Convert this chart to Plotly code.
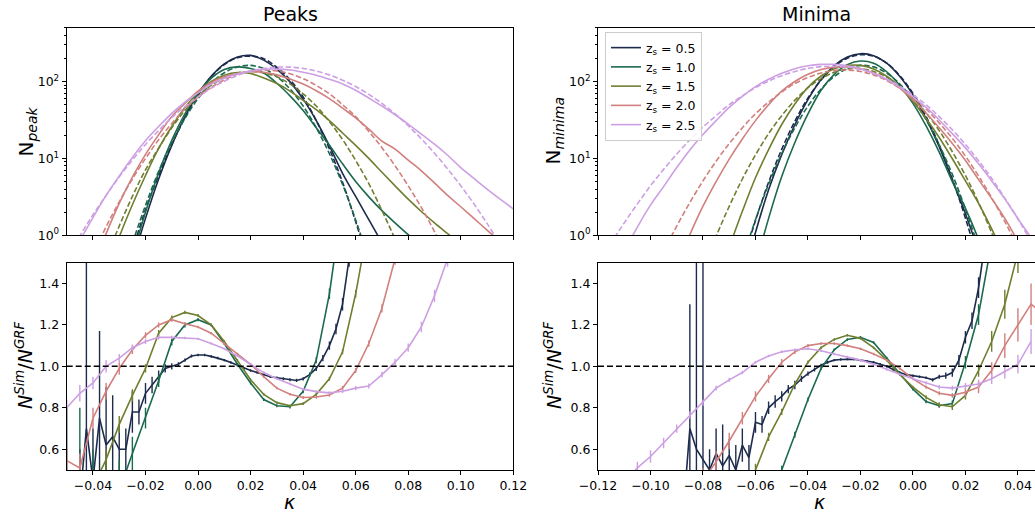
import plotly.graph_objects as go
from plotly.subplots import make_subplots

N = None
# ---------------- data ----------------
z_labels = ["0.5", "1.0", "1.5", "2.0", "2.5"]
colors = ["#1d2b4d", "#1b6a4e", "#6e7f2f", "#d1807e", "#cd9fe3"]

K_TL = [-0.05, -0.045, -0.04, -0.035, -0.03, -0.025, -0.02, -0.015, -0.01, -0.005,
        0.0, 0.005, 0.01, 0.015, 0.02, 0.025, 0.03, 0.035, 0.04, 0.045,
        0.05, 0.055, 0.06, 0.065, 0.07, 0.075, 0.08, 0.085, 0.09, 0.095,
        0.1, 0.105, 0.11, 0.115, 0.12]

peak_sim_05 = [N, N, N, N, N, 0.45, 1.66, 5.4, 14.8, 34.7, 69, 117, 170, 209, 219, 190, 145, 99, 59, 31,
               14.6, 6.4, 3.2, 1.6, 0.8, N, N, N, N, N, N, N, N, N, N]
peak_grf_05 = [N, N, N, N, N, 0.63, 2.14, 6.0, 15.1, 33.9, 66, 115, 166, 204, 214, 198, 153, 106, 63, 31,
               13.3, 4.9, 1.5, 0.42, N, N, N, N, N, N, N, N, N, N, N]
peak_sim_10 = [N, N, N, N, N, 0.52, 2.0, 6.5, 17.2, 38, 71, 110, 143, 155, 148, 129, 95, 65, 42, 25,
               14.8, 8.5, 5.0, 3.16, 2.09, 1.45, 1.02, 0.74, N, N, N, N, N, N, N]
peak_grf_10 = [N, N, N, N, N, 0.79, 2.45, 6.8, 16.0, 33, 60, 95, 130, 155, 162, 147, 116, 80, 48, 25,
               11.5, 4.6, 1.58, 0.48, N, N, N, N, N, N, N, N, N, N, N]
peak_sim_15 = [N, N, N, 0.3, 0.95, 2.5, 6.0, 13.5, 26, 46, 72, 100, 121, 131, 127, 111, 94, 75, 57, 43,
               31, 21.4, 14.8, 10, 6.6, 4.4, 2.95, 2.04, 1.45, 1.05, 0.76, N, N, N, N]
peak_grf_15 = [N, N, N, 0.5, 1.32, 3.2, 7.1, 13.6, 25, 42, 64, 89, 112, 129, 135, 129, 115, 93, 69, 48,
               30, 17.6, 9.4, 4.7, 2.1, 0.89, 0.34, N, N, N, N, N, N, N, N]
peak_sim_20 = [N, N, 0.38, 1.05, 2.6, 5.7, 11.3, 20.3, 35, 52, 75, 97, 115, 127, 134, 132, 122, 108, 93, 76,
               60, 45, 33.7, 24, 16.8, 13.2, 9.5, 6.9, 4.8, 3.3, 2.35, 1.66, 1.17, 0.83, N]
peak_grf_20 = [N, N, 0.56, 1.29, 2.72, 5.4, 10.0, 17.5, 28.5, 44, 63, 84, 105, 124, 136, 141, 137, 126, 109, 89,
               69, 50, 35, 22.4, 13.8, 8.0, 4.4, 2.3, 1.12, 0.51, N, N, N, N, N]
peak_sim_25 = [0.4, 0.85, 1.7, 3.3, 5.9, 10.3, 17, 26, 38.6, 54, 71, 92, 110, 126, 137, 144, 145, 141, 132, 121,
               107, 93, 77, 61, 48, 37, 28, 20.7, 15.3, 11, 7.6, 5.5, 4.0, 2.95, 2.2]
peak_grf_25 = [0.5, 0.98, 1.85, 3.3, 5.75, 9.5, 15.2, 23, 34, 47, 63, 82, 101, 120, 136, 148, 154, 154, 148, 137,
               122, 104, 86, 68, 52, 38, 26.6, 18, 11.7, 7.3, 4.4, 2.57, 1.43, 0.76, N]

K_TR = [-0.12, -0.115, -0.11, -0.105, -0.1, -0.095, -0.09, -0.085, -0.08, -0.075,
        -0.07, -0.065, -0.06, -0.055, -0.05, -0.045, -0.04, -0.035, -0.03, -0.025,
        -0.02, -0.015, -0.01, -0.005, 0.0, 0.005, 0.01, 0.015, 0.02, 0.025,
        0.03, 0.035, 0.04, 0.045, 0.05]

min_sim_05 = [N, N, N, N, N, N, N, N, N, N, N, 0.25, 1.09, 3.9, 11.2, 27.4, 58, 106, 161, 208,
              230, 217, 173, 116, 67, 33, 14.2, 5.25, 1.91, 0.62, N, N, N, N, N]
min_grf_05 = [N, N, N, N, N, N, N, N, N, N, N, 0.43, 1.56, 4.9, 13.1, 30.4, 61, 105, 157, 201,
              223, 213, 173, 119, 70, 35, 14.9, 5.4, 1.67, 0.44, N, N, N, N, N]
min_sim_10 = [N, N, N, N, N, N, N, N, N, N, N, N, 0.4, 1.66, 5.8, 16.1, 38, 77, 124, 166,
              185, 173, 134, 89, 52, 26.4, 12.1, 5.0, 2.24, 0.88, 0.29, N, N, N, N]
min_grf_10 = [N, N, N, N, N, N, N, N, N, N, N, 0.48, 1.59, 4.6, 11.5, 25, 48, 80, 116, 147,
              162, 155, 129, 93, 58, 31.8, 15, 6.2, 2.19, 0.68, 0.18, N, N, N, N]
min_sim_15 = [N, N, N, N, N, N, N, N, N, N, 0.7, 2.05, 5.6, 13, 27.6, 51, 84, 118, 147, 162,
              162, 145, 117, 84, 55, 33, 18.7, 9.9, 5.1, 2.6, 1.21, 0.52, N, N, N]
min_grf_15 = [N, N, N, N, N, N, N, N, 0.36, 0.97, 2.38, 5.4, 11.1, 21, 36, 57, 83, 109, 132, 146,
              147, 135, 114, 87, 61, 39, 23, 12.2, 6.0, 2.66, 1.08, 0.4, N, N, N]
min_sim_20 = [N, N, N, N, N, N, 0.4, 1.02, 2.39, 5.0, 9.8, 17.9, 31, 50, 75, 100, 124, 143, 154, 155,
              147, 129, 106, 82, 58, 39, 25, 15.6, 9.4, 5.3, 3.0, 1.66, 0.83, 0.39, N]
min_grf_20 = [N, N, N, N, N, 0.62, 1.32, 2.67, 5.1, 9.2, 15.6, 25, 38, 54, 73, 94, 113, 129, 139, 141,
              135, 122, 103, 82, 62, 44, 29, 18.2, 10.7, 5.9, 3.08, 1.51, 0.69, 0.3, N]
min_sim_25 = [N, N, 0.61, 1.28, 2.47, 4.3, 7.6, 12.9, 20.5, 31, 46, 64, 86, 107, 128, 147, 160, 167, 167, 160,
              147, 128, 106, 84, 63, 46, 31.6, 21, 13.7, 8.5, 5.1, 2.98, 1.65, 0.93, 0.5]
min_grf_25 = [0.41, 0.79, 1.45, 2.56, 4.4, 7.2, 11.4, 17.4, 25.6, 36, 50, 65, 83, 101, 119, 135, 148, 156, 158, 154,
              144, 127, 108, 87, 67, 50, 35, 23.6, 15.2, 9.3, 5.5, 3.05, 1.63, 0.83, 0.4]

# ratio panels (peaks)
K_BL5 = [-0.05, -0.0475, -0.045, -0.0425, -0.04, -0.0375, -0.035, -0.0325, -0.03, -0.0275,
         -0.025, -0.0225, -0.02, -0.0175, -0.015, -0.0125, -0.01, -0.0075, -0.005, -0.0025,
         0.0, 0.0025, 0.005, 0.0075, 0.01, 0.0125, 0.015, 0.0175, 0.02, 0.0225,
         0.025, 0.0275, 0.03, 0.0325, 0.035, 0.0375, 0.04, 0.0425, 0.045, 0.0475,
         0.05, 0.0525, 0.055, 0.0575]
rat_peak_05 = [0.45, 0.3, 0.35, 0.7, 0.45, 0.75, 0.62, 0.66, 0.6, 0.6,
               0.78, 0.78, 0.87, 0.91, 0.95, 0.99, 1.0, 1.01, 1.03, 1.05,
               1.055, 1.055, 1.048, 1.04, 1.03, 1.018, 1.005, 0.99, 0.98, 0.97,
               0.96, 0.95, 0.945, 0.94, 0.935, 0.932, 0.94, 0.96, 0.99, 1.04,
               1.1, 1.18, 1.3, 1.52]
err_peak_05 = [0.35, 0.2, 0.25, 1.5, 0.25, 0.42, 0.28, 0.2, 0.12, 0.1,
               0.1, 0.06, 0.05, 0.04, 0.03, 0.02, 0.015, 0.01, 0.008, 0.007,
               0.006, 0.006, 0.006, 0.006, 0.006, 0.006, 0.006, 0.006, 0.006, 0.006,
               0.006, 0.006, 0.006, 0.007, 0.007, 0.008, 0.008, 0.01, 0.012, 0.015,
               0.02, 0.025, 0.03, 0.04]
rat_peak_10 = [N, 0.35, 0.3, 0.35, 0.4, 0.58, 0.75, 0.93, 1.12, 1.2, 1.225, 1.2, 1.11, 1.01, 0.92,
               0.84, 0.81, 0.805, 0.88, 1.03, 1.35, 1.8, N, N, N, N, N, N, N, N, N, N, N, N, N]
err_peak_10 = [N, 0.45, 0.3, 0.2, 0.15, 0.08, 0.05, 0.03, 0.02, 0.012, 0.008, 0.007, 0.007, 0.007, 0.007,
               0.007, 0.007, 0.008, 0.01, 0.015, 0.025, 0.04, N, N, N, N, N, N, N, N, N, N, N, N, N]
rat_peak_15 = [N, N, 0.42, 0.55, 0.72, 0.86, 0.99, 1.16, 1.235, 1.26, 1.245, 1.2, 1.12, 1.03, 0.935,
               0.865, 0.825, 0.81, 0.82, 0.865, 0.94, 1.07, 1.35, 1.7, N, N, N, N, N, N, N, N, N, N, N]
err_peak_15 = [N, N, 0.08, 0.05, 0.04, 0.03, 0.02, 0.015, 0.01, 0.008, 0.007, 0.006, 0.006, 0.006, 0.006,
               0.006, 0.006, 0.006, 0.007, 0.008, 0.01, 0.012, 0.018, 0.025, N, N, N, N, N, N, N, N, N, N, N]
rat_peak_20 = [0.545, 0.51, 0.75, 0.88, 0.99, 1.08, 1.15, 1.2, 1.225, 1.205, 1.19, 1.16, 1.11, 1.06, 1.01,
               0.95, 0.895, 0.865, 0.85, 0.852, 0.862, 0.895, 0.98, 1.11, 1.28, 1.52, N, N, N, N, N, N, N, N, N]
err_peak_20 = [0.06, 0.07, 0.05, 0.04, 0.03, 0.02, 0.015, 0.012, 0.01, 0.008, 0.006, 0.006, 0.006, 0.006, 0.006,
               0.006, 0.006, 0.006, 0.007, 0.008, 0.009, 0.01, 0.012, 0.015, 0.02, 0.03, N, N, N, N, N, N, N, N, N]
rat_peak_25 = [0.80, 0.87, 0.92, 1.00, 1.04, 1.09, 1.12, 1.14, 1.14, 1.137, 1.133, 1.11, 1.085, 1.05, 1.01,
               0.97, 0.94, 0.915, 0.89, 0.878, 0.872, 0.88, 0.895, 0.905, 0.96, 1.02, 1.09, 1.19, 1.34, 1.52,
               N, N, N, N, N]
err_peak_25 = [0.04, 0.04, 0.03, 0.03, 0.02, 0.015, 0.012, 0.01, 0.008, 0.006, 0.005, 0.005, 0.005, 0.005, 0.005,
               0.005, 0.005, 0.006, 0.006, 0.007, 0.008, 0.009, 0.01, 0.012, 0.014, 0.017, 0.02, 0.025, 0.03, 0.04,
               N, N, N, N, N]

# ratio panels (minima)
K_BR5 = [-0.0875, -0.085, -0.0825, -0.08, -0.0775, -0.075, -0.0725, -0.07, -0.0675, -0.065,
         -0.0625, -0.06, -0.0575, -0.055, -0.0525, -0.05, -0.0475, -0.045, -0.0425, -0.04,
         -0.0375, -0.035, -0.0325, -0.03, -0.0275, -0.025, -0.0225, -0.02, -0.0175, -0.015,
         -0.0125, -0.01, -0.0075, -0.005, -0.0025, 0.0, 0.0025, 0.005, 0.0075, 0.01,
         0.0125, 0.015, 0.0175, 0.02, 0.0225, 0.025, 0.0275]
rat_min_05 = [0.3, 0.7, 0.6, 0.55, 0.5, 0.58, 0.52, 0.57, 0.5, 0.62,
              0.56, 0.73, 0.72, 0.8, 0.83, 0.855, 0.89, 0.91, 0.94, 0.965,
              0.985, 1.005, 1.02, 1.03, 1.033, 1.035, 1.035, 1.03, 1.025, 1.02,
              1.01, 1.0, 0.985, 0.97, 0.96, 0.955, 0.95, 0.945, 0.935, 0.95,
              0.955, 0.97, 1.03, 1.14, 1.22, 1.38, 1.6]
err_min_05 = [0.2, 0.6, 1.5, 1.2, 0.1, 0.12, 0.2, 0.08, 0.12, 0.08,
              0.06, 0.05, 0.04, 0.03, 0.03, 0.025, 0.02, 0.02, 0.015, 0.01,
              0.01, 0.008, 0.007, 0.006, 0.006, 0.006, 0.006, 0.006, 0.006, 0.006,
              0.006, 0.006, 0.006, 0.006, 0.006, 0.006, 0.006, 0.006, 0.008, 0.01,
              0.015, 0.02, 0.025, 0.03, 0.04, 0.05, 0.06]
rat_min_10 = [N, N, N, N, N, N, N, N, N, N, N, N, N, N, 0.5, 0.67, 0.84, 0.99, 1.08, 1.13,
              1.14, 1.115, 1.04, 0.96, 0.89, 0.83, 0.81, 0.82, 1.02, 1.25, 1.6, N, N, N, N]
err_min_10 = [N, N, N, N, N, N, N, N, N, N, N, N, N, N, 0.02, 0.015, 0.01, 0.008, 0.006, 0.006,
              0.006, 0.006, 0.006, 0.006, 0.006, 0.008, 0.01, 0.015, 0.03, 0.05, 0.08, N, N, N, N]
rat_min_15 = [N, N, N, N, N, N, N, N, N, N, N, N, 0.5, 0.66, 0.78, 0.915, 1.02, 1.09, 1.13, 1.15,
              1.135, 1.09, 1.03, 0.96, 0.9, 0.85, 0.815, 0.805, 0.86, 0.98, 1.12, 1.3, 1.55, N, N]
err_min_15 = [N, N, N, N, N, N, N, N, N, N, N, N, 0.03, 0.02, 0.015, 0.01, 0.008, 0.006, 0.006, 0.006,
              0.006, 0.006, 0.006, 0.006, 0.006, 0.01, 0.012, 0.015, 0.02, 0.03, 0.05, 0.07, 0.1, N, N]
rat_min_20 = [N, N, N, N, N, N, N, N, 0.45, 0.54, 0.64, 0.75, 0.855, 0.94, 1.02, 1.07, 1.1, 1.11, 1.11, 1.1,
              1.085, 1.06, 1.03, 0.99, 0.94, 0.9, 0.87, 0.86, 0.875, 0.9, 0.98, 1.1, 1.2, 1.3, 1.25]
err_min_20 = [N, N, N, N, N, N, N, N, 0.06, 0.05, 0.04, 0.03, 0.025, 0.02, 0.015, 0.01, 0.008, 0.006, 0.006, 0.006,
              0.006, 0.006, 0.006, 0.006, 0.006, 0.008, 0.01, 0.012, 0.02, 0.03, 0.04, 0.06, 0.08, 0.1, 0.12]
rat_min_25 = [N, N, 0.44, 0.51, 0.565, 0.63, 0.70, 0.765, 0.825, 0.895, 0.935, 0.97, 1.02, 1.05, 1.07, 1.08, 1.085,
              1.075, 1.06, 1.045, 1.03, 1.01, 0.985, 0.962, 0.94, 0.92, 0.9, 0.895, 0.905, 0.915, 0.94, 0.975,
              1.01, 1.12, N]
err_min_25 = [N, N, 0.04, 0.03, 0.03, 0.025, 0.02, 0.018, 0.015, 0.012, 0.01, 0.008, 0.006, 0.006, 0.006, 0.006,
              0.006, 0.006, 0.006, 0.006, 0.006, 0.006, 0.006, 0.006, 0.007, 0.008, 0.01, 0.012, 0.015, 0.02,
              0.025, 0.035, 0.045, 0.06, N]

# ticks
xt_left = [-0.04, -0.02, 0.0, 0.02, 0.04, 0.06, 0.08, 0.10, 0.12]
xt_left_txt = ["\u22120.04", "\u22120.02", "0.00", "0.02", "0.04", "0.06", "0.08", "0.10", "0.12"]
xt_right = [-0.12, -0.10, -0.08, -0.06, -0.04, -0.02, 0.0, 0.02, 0.04]
xt_right_txt = ["\u22120.12", "\u22120.10", "\u22120.08", "\u22120.06", "\u22120.04", "\u22120.02", "0.00", "0.02", "0.04"]
yt_log = [1, 10, 100]
yt_log_txt = ["10<sup>0</sup>", "10<sup>1</sup>", "10<sup>2</sup>"]
yt_minor = [2, 3, 4, 5, 6, 7, 8, 9, 20, 30, 40, 50, 60, 70, 80, 90, 200, 300, 400, 500]
yt_rat = [0.6, 0.8, 1.0, 1.2, 1.4]
yt_rat_txt = ["0.6", "0.8", "1.0", "1.2", "1.4"]

peak_sim = [peak_sim_05, peak_sim_10, peak_sim_15, peak_sim_20, peak_sim_25]
peak_grf = [peak_grf_05, peak_grf_10, peak_grf_15, peak_grf_20, peak_grf_25]
min_sim = [min_sim_05, min_sim_10, min_sim_15, min_sim_20, min_sim_25]
min_grf = [min_grf_05, min_grf_10, min_grf_15, min_grf_20, min_grf_25]
rat_peak = [(K_BL5, rat_peak_05, err_peak_05), (K_TL, rat_peak_10, err_peak_10), (K_TL, rat_peak_15, err_peak_15),
            (K_TL, rat_peak_20, err_peak_20), (K_TL, rat_peak_25, err_peak_25)]
rat_min = [(K_BR5, rat_min_05, err_min_05), (K_TR, rat_min_10, err_min_10), (K_TR, rat_min_15, err_min_15),
           (K_TR, rat_min_20, err_min_20), (K_TR, rat_min_25, err_min_25)]

# ---------------- figure ----------------
FONT = "DejaVu Sans"
fig = make_subplots(rows=2, cols=2)
LW = 1.6
DASH = "5.5px,2.5px"

for i, c in enumerate(colors):
    name = "z<sub>s</sub> = " + z_labels[i]
    fig.add_trace(go.Scatter(x=K_TL, y=peak_sim[i], mode="lines", line=dict(color=c, width=LW, shape="spline"),
                             showlegend=False, hoverinfo="skip"), row=1, col=1)
    fig.add_trace(go.Scatter(x=K_TL, y=peak_grf[i], mode="lines",
                             line=dict(color=c, width=LW, dash=DASH, shape="spline"),
                             showlegend=False, hoverinfo="skip"), row=1, col=1)
    fig.add_trace(go.Scatter(x=K_TR, y=min_sim[i], mode="lines", line=dict(color=c, width=LW, shape="spline"),
                             name=name, showlegend=True, hoverinfo="skip"), row=1, col=2)
    fig.add_trace(go.Scatter(x=K_TR, y=min_grf[i], mode="lines",
                             line=dict(color=c, width=LW, dash=DASH, shape="spline"),
                             showlegend=False, hoverinfo="skip"), row=1, col=2)
    kx, ry, ey = rat_peak[i]
    fig.add_trace(go.Scatter(x=kx, y=ry, mode="lines", line=dict(color=c, width=LW),
                             error_y=dict(type="data", array=ey, width=0, thickness=1.4, color=c),
                             showlegend=False, hoverinfo="skip"), row=2, col=1)
    kx, ry, ey = rat_min[i]
    fig.add_trace(go.Scatter(x=kx, y=ry, mode="lines", line=dict(color=c, width=LW),
                             error_y=dict(type="data", array=ey, width=0, thickness=1.4, color=c),
                             showlegend=False, hoverinfo="skip"), row=2, col=2)

W, H = 1035, 516
xl = [66.7 / W, 513.3 / W]
xr = [598.0 / W, 1.0]
yt = [1 - 235.3 / H, 1 - 27.7 / H]
yb = [1 - 470.0 / H, 1 - 262.7 / H]

ax = dict(showline=True, linecolor="black", linewidth=1, mirror=True, ticks="outside", ticklen=4,
          tickwidth=1, tickcolor="black", showgrid=False, zeroline=False, automargin=False,
          tickfont=dict(size=12.5, color="black", family=FONT))

fig.update_layout(
    template="none",
    xaxis=dict(ax, domain=xl, range=[-0.05, 0.12], tickvals=xt_left, showticklabels=False),
    xaxis2=dict(ax, domain=xr, range=[-0.12, 0.0465], tickvals=xt_right, showticklabels=False),
    xaxis3=dict(ax, domain=xl, range=[-0.05, 0.12], tickvals=xt_left, ticktext=xt_left_txt),
    xaxis4=dict(ax, domain=xr, range=[-0.12, 0.0465], tickvals=xt_right, ticktext=xt_right_txt),
    yaxis=dict(ax, domain=yt, type="log", range=[0, 2.7], tickvals=yt_log, ticktext=yt_log_txt,
               minor=dict(ticks="outside", ticklen=2, tickcolor="black", tickvals=yt_minor)),
    yaxis2=dict(ax, domain=yt, type="log", range=[0, 2.7], tickvals=yt_log, ticktext=yt_log_txt,
                minor=dict(ticks="outside", ticklen=2, tickcolor="black", tickvals=yt_minor)),
    yaxis3=dict(ax, domain=yb, range=[0.5, 1.5], tickvals=yt_rat, ticktext=yt_rat_txt),
    yaxis4=dict(ax, domain=yb, range=[0.5, 1.5], tickvals=yt_rat, ticktext=yt_rat_txt),
)

for xr_, yr_ in (("x3", "y3"), ("x4", "y4")):
    fig.add_shape(type="line", xref=xr_ + " domain", yref=yr_, x0=0, x1=1, y0=1, y1=1,
                  line=dict(color="black", width=1.5, dash="6px,3px"))

ann = []
def A(text, x, y, size, angle=0):
    ann.append(dict(text=text, x=x, y=y, xref="paper", yref="paper", showarrow=False,
                    xanchor="center", yanchor="middle", textangle=angle,
                    font=dict(size=size, color="black", family=FONT)))

A("Peaks", 290 / W, 1 - 14 / H, 19)
A("Minima", 816 / W, 1 - 14 / H, 19)
A("N<sub><i>peak</i></sub>", 26 / W, 1 - 131.5 / H, 20, -90)
A("N<sub><i>minima</i></sub>", 553 / W, 1 - 131.5 / H, 20, -90)
A("<i>N</i><sup><i>Sim</i></sup>/<i>N</i><sup><i>GRF</i></sup>", 24 / W, 1 - 366 / H, 19, -90)
A("<i>N</i><sup><i>Sim</i></sup>/<i>N</i><sup><i>GRF</i></sup>", 553 / W, 1 - 366 / H, 19, -90)
A("<i>\u03ba</i>", 290 / W, 1 - 502 / H, 19)
A("<i>\u03ba</i>", 820 / W, 1 - 502 / H, 19)

fig.update_layout(
    width=W, height=H, margin=dict(l=0, r=0, t=0, b=0, pad=0),
    paper_bgcolor="white", plot_bgcolor="white",
    font=dict(family=FONT, color="black"),
    annotations=ann,
    legend=dict(x=605 / W, y=1 - 32 / H, xanchor="left", yanchor="top",
                bgcolor="rgba(255,255,255,0.85)", bordercolor="#cccccc", borderwidth=1,
                font=dict(size=12.5, family=FONT, color="black"), itemwidth=30, tracegroupgap=0),
)

fig.write_html("out.html", config={"displayModeBar": False, "staticPlot": True},
               post_script="document.body.style.margin='0px';document.body.style.overflow='hidden';")
